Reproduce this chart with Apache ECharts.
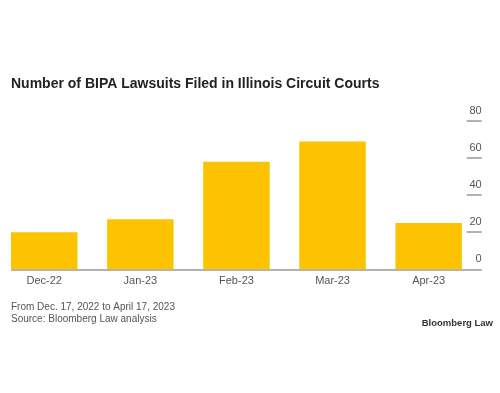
<!DOCTYPE html>
<html>
<head>
<meta charset="utf-8">
<script src="https://cdn.jsdelivr.net/npm/echarts@6/dist/echarts.min.js"></script>
<style>html,body{margin:0;padding:0;background:#fff;}#c{width:500px;height:393px;}</style>
</head>
<body>
<div id="c"></div>
<script>
const categories = ['Dec-22', 'Jan-23', 'Feb-23', 'Mar-23', 'Apr-23'];
const lawsuits = [20, 27, 58, 69, 25];
const yTicks = { min: 0, max: 80, interval: 20 };
const titleText = 'Number of BIPA Lawsuits Filed in Illinois Circuit Courts';
const noteText = 'From Dec. 17, 2022 to April 17, 2023';
const sourceText = 'Source: Bloomberg Law analysis';
const brandText = 'Bloomberg Law';

const chart = echarts.init(document.getElementById('c'));
const font = 'Liberation Sans, Arial, sans-serif';
chart.setOption({
  backgroundColor: '#fff',
  animation: false,
  title: [
    { text: titleText, left: 6, top: 72, textStyle: { fontFamily: font, fontSize: 14, fontWeight: 'bold', color: '#222' } },
    { text: noteText, left: 6, top: 297, textStyle: { fontFamily: font, fontSize: 10, fontWeight: 'normal', color: '#555' } },
    { text: sourceText, left: 6, top: 309, textStyle: { fontFamily: font, fontSize: 10, fontWeight: 'normal', color: '#555' } },
    { text: brandText, right: 2, top: 313, textStyle: { fontFamily: font, fontSize: 9.5, fontWeight: 'bold', color: '#333' } }
  ],
  grid: [
    { left: -3.8, right: 23.3, top: 121, bottom: 123.7, outerBoundsMode: 'none', containLabel: false },
    { left: 11.7, right: 33.3, top: 121, bottom: 123.7, outerBoundsMode: 'none', containLabel: false }
  ],
  xAxis: [
    { type: 'category', gridIndex: 0, data: categories,
      axisLine: { show: false }, axisTick: { show: false },
      axisLabel: { color: '#555', fontFamily: font, fontSize: 11, margin: 6 } },
    { type: 'value', gridIndex: 1, min: 0, max: 1,
      axisLine: { show: true, onZero: false, lineStyle: { color: '#999', width: 1.5 } },
      axisTick: { show: false }, axisLabel: { show: false }, splitLine: { show: false } }
  ],
  yAxis: [
    { type: 'value', gridIndex: 0, min: yTicks.min, max: yTicks.max, interval: yTicks.interval,
      axisLine: { show: false }, axisTick: { show: false }, axisLabel: { show: false }, splitLine: { show: false } },
    { type: 'value', gridIndex: 1, position: 'right', min: yTicks.min, max: yTicks.max, interval: yTicks.interval,
      axisLine: { show: false, onZero: false }, splitLine: { show: false },
      axisTick: { show: true, inside: false, length: 15, lineStyle: { color: '#999', width: 1.5 } },
      axisLabel: { inside: false, margin: 15, align: 'right', verticalAlign: 'bottom', lineHeight: 14,
        padding: [0, 0, 3, 0], color: '#555', fontFamily: font, fontSize: 11 } }
  ],
  series: [
    { type: 'bar', xAxisIndex: 0, yAxisIndex: 0, data: lawsuits, barWidth: 66.5,
      itemStyle: { color: '#FDC300' } }
  ]
});
</script>
</body>
</html>
